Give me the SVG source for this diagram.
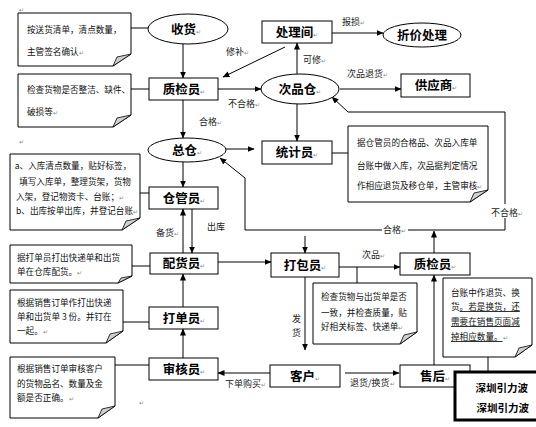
<svg xmlns="http://www.w3.org/2000/svg" width="536" height="427" viewBox="0 0 536 427">
<defs>
<marker id="ah" markerWidth="7" markerHeight="6" refX="6.5" refY="3" orient="auto" markerUnits="userSpaceOnUse">
<path d="M0,0 L7,3 L0,6 Z" fill="#000"/>
</marker>
<style>
.n{fill:#fff;stroke:#000;stroke-width:1}
.t{font-family:"Noto Sans CJK SC","Noto Sans",sans-serif;font-size:12.5px;font-weight:bold;fill:#000;text-anchor:middle}
.nt{font-family:"Noto Sans CJK SC","Noto Sans",sans-serif;font-size:8.6px;fill:#111}
.lb{font-family:"Noto Sans CJK SC","Noto Sans",sans-serif;font-size:9px;fill:#222}
.c{fill:none;stroke:#000;stroke-width:1}
.a{fill:none;stroke:#000;stroke-width:1;marker-end:url(#ah)}
.fold{fill:#d0d0d0;stroke:#000;stroke-width:0.8}
.r{font-size:6px;fill:#888;font-weight:normal}
.big{font-family:"Noto Sans CJK SC",sans-serif;font-size:10.5px;font-weight:bold;fill:#000;text-anchor:end}
</style>
</defs>
<rect width="536" height="427" fill="#fff"/>

<g id="connectors">
<line class="c" x1="131" y1="28" x2="148" y2="28"/>
<line class="a" x1="183" y1="44" x2="183" y2="78"/>
<line class="c" x1="131" y1="89" x2="149" y2="89"/>
<line class="a" x1="218" y1="89" x2="261" y2="89"/>
<line class="a" x1="285" y1="47" x2="223" y2="77"/>
<line class="a" x1="332" y1="33" x2="383" y2="33"/>
<line class="a" x1="297" y1="74" x2="297" y2="43"/>
<line class="a" x1="340" y1="89" x2="401" y2="89"/>
<line class="a" x1="297" y1="104" x2="297" y2="141"/>
<line class="c" x1="332" y1="153" x2="348" y2="153"/>
<line class="a" x1="183" y1="100" x2="183" y2="138"/>
<line class="a" x1="226" y1="149" x2="254" y2="149"/>
<line class="a" x1="183" y1="162" x2="183" y2="187"/>
<line class="c" x1="140" y1="193" x2="149" y2="193"/>
<line class="a" x1="183" y1="253" x2="183" y2="209"/>
<line class="a" x1="192" y1="209" x2="192" y2="253"/>
<line class="c" x1="132" y1="266" x2="150" y2="266"/>
<line class="a" x1="218" y1="262" x2="271" y2="262"/>
<line class="a" x1="305" y1="236" x2="305" y2="253"/>
<line class="a" x1="339" y1="267" x2="400" y2="267"/>
<line class="c" x1="357" y1="267" x2="357" y2="283"/>
<line class="a" x1="305" y1="277" x2="305" y2="350"/>
<line class="a" x1="345" y1="373" x2="399" y2="373"/>
<line class="a" x1="434" y1="365" x2="434" y2="275"/>
<line class="c" x1="488" y1="357" x2="488" y2="372"/>
<line class="a" x1="434" y1="253" x2="434" y2="231"/>
<polyline class="a" points="382,230 245,230 245,178 220,158"/>
<polyline class="a" points="408,230 505,230 505,112 348,112 332,97"/>
<line class="c" x1="123" y1="322" x2="149" y2="322"/>
<line class="a" x1="183" y1="307" x2="183" y2="274"/>
<line class="a" x1="183" y1="358" x2="183" y2="329"/>
<line class="c" x1="115" y1="365" x2="149" y2="365"/>
<line class="a" x1="270" y1="373" x2="218" y2="373"/>
</g>

<g id="edge-labels">
<text class="lb" x="226" y="55">修补<tspan class="r">↵</tspan></text>
<text class="lb" x="228" y="107">不合格<tspan class="r">↵</tspan></text>
<text class="lb" x="199" y="125">合格<tspan class="r">↵</tspan></text>
<text class="lb" x="342" y="25">报损<tspan class="r">↵</tspan></text>
<text class="lb" x="303" y="63">可修<tspan class="r">↵</tspan></text>
<text class="lb" x="347" y="77">次品退货<tspan class="r">↵</tspan></text>
<rect x="488" y="204" width="34" height="14" fill="#fff"/>
<text class="lb" x="491" y="216">不合格<tspan class="r">↵</tspan></text>
<text class="lb" x="383" y="233">合格<tspan class="r">↵</tspan></text>
<text class="lb" x="156" y="236">备货<tspan class="r">↵</tspan></text>
<text class="lb" x="207" y="230">出库</text>
<text class="lb" x="362" y="258">次品<tspan class="r">↵</tspan></text>
<text class="lb" x="292" y="322">发</text>
<text class="lb" x="292" y="336">货</text>
<text class="lb" x="350" y="386">退货/换货<tspan class="r">↵</tspan></text>
<text class="lb" x="225" y="387">下单购买<tspan class="r">↵</tspan></text>
<text class="lb r" x="19" y="12" style="font-size:6px">↵</text>
<text class="lb r" x="19" y="144" style="font-size:6px">↵</text>
<text class="lb r" x="139" y="405" style="font-size:6px">↵</text>
</g>

<g id="shouhuo"><ellipse class="n" cx="188" cy="29" rx="40" ry="15"/><text class="t" x="186" y="34">收货<tspan class="r">↵</tspan></text></g>
<g id="zhijianyuan1"><rect class="n" x="149" y="78" width="69" height="22"/><text class="t" x="184" y="94">质检员<tspan class="r">↵</tspan></text></g>
<g id="chulijian"><rect class="n" x="262" y="21" width="70" height="22"/><text class="t" x="297" y="37">处理间<tspan class="r">↵</tspan></text></g>
<g id="zhejia"><ellipse class="n" cx="422" cy="35" rx="39" ry="12"/><text class="t" x="422" y="40">折价处理</text></g>
<g id="cipincang"><ellipse class="n" cx="300" cy="89" rx="39" ry="15"/><text class="t" x="300" y="94">次品仓<tspan class="r">↵</tspan></text></g>
<g id="gongyingshang"><rect class="n" x="401" y="74" width="69" height="23"/><text class="t" x="436" y="90">供应商<tspan class="r">↵</tspan></text></g>
<g id="zongcang"><ellipse class="n" cx="187" cy="150" rx="39" ry="12"/><text class="t" x="187" y="155">总仓<tspan class="r">↵</tspan></text></g>
<g id="tongjiyuan"><rect class="n" x="262" y="141" width="70" height="23"/><text class="t" x="297" y="157">统计员<tspan class="r">↵</tspan></text></g>
<g id="cangguanyuan"><rect class="n" x="149" y="187" width="69" height="22"/><text class="t" x="184" y="203">仓管员<tspan class="r">↵</tspan></text></g>
<g id="peihuoyuan"><rect class="n" x="150" y="253" width="68" height="21"/><text class="t" x="184" y="268">配货员<tspan class="r">↵</tspan></text></g>
<g id="dabaoyuan"><rect class="n" x="271" y="253" width="68" height="24"/><text class="t" x="305" y="270">打包员<tspan class="r">↵</tspan></text></g>
<g id="zhijianyuan2"><rect class="n" x="400" y="253" width="70" height="22"/><text class="t" x="435" y="269">质检员<tspan class="r">↵</tspan></text></g>
<g id="dadanyuan"><rect class="n" x="149" y="307" width="69" height="22"/><text class="t" x="184" y="323">打单员<tspan class="r">↵</tspan></text></g>
<g id="shenheyuan"><rect class="n" x="149" y="358" width="69" height="22"/><text class="t" x="184" y="374">审核员<tspan class="r">↵</tspan></text></g>
<g id="kehu"><rect class="n" x="270" y="365" width="70" height="22"/><text class="t" x="305" y="381">客户<tspan class="r">↵</tspan></text></g>
<g id="shouhou"><rect class="n" x="400" y="365" width="70" height="22"/><text class="t" x="435" y="381">售后<tspan class="r">↵</tspan></text></g>

<g id="note1"><path class="n" d="M18,13 H131 V54 L113,66 H18 Z"/><path class="fold" d="M113,66 L117,57 L131,54 Z"/>
<text class="nt" x="27" y="33">按送货清单，清点数量，</text><text class="nt" x="27" y="55">主管签名确认<tspan class="r">↵</tspan></text></g>
<g id="note2"><path class="n" d="M18,74 H131 V115 L113,127 H18 Z"/><path class="fold" d="M113,127 L117,118 L131,115 Z"/>
<text class="nt" x="27" y="93">检查货物是否整洁、缺件、</text><text class="nt" x="27" y="115">破损等<tspan class="r">↵</tspan></text></g>
<g id="note-tongji"><path class="n" d="M348,126 H488 V190 L470,202 H348 Z"/><path class="fold" d="M470,202 L474,193 L488,190 Z"/>
<text class="nt" x="357" y="146">据仓管员的合格品、次品入库单</text><text class="nt" x="357" y="169">台账中做入库，次品据判定情况</text><text class="nt" x="357" y="189">作相应退货及移仓单，主管审核<tspan class="r">↵</tspan></text></g>
<g id="note-cangguan"><path class="n" d="M10,154 H140 V218 L122,230 H10 Z"/><path class="fold" d="M122,230 L126,221 L140,218 Z"/>
<g style="text-anchor:middle"><text class="nt" x="73" y="169">a、入库清点数量，贴好标签，</text><text class="nt" x="75" y="185">填写入库单，整理货架，货物</text><text class="nt" x="70" y="200">入架，登记物资卡、台账；<tspan class="r">↵</tspan></text><text class="nt" x="77" y="214">b、出库按单出库，并登记台账<tspan class="r">↵</tspan></text></g></g>
<g id="note-peihuo"><path class="n" d="M10,245 H132 V276 L118,283 H10 Z"/><path class="fold" d="M118,283 L121,278 L132,276 Z"/>
<text class="nt" x="17" y="261">据打单员打出快递单和出货</text><text class="nt" x="17" y="275">单在仓库配货。<tspan class="r">↵</tspan></text></g>
<g id="note-dabao"><path class="n" d="M313,283 H417 V332 L400,344 H313 Z"/><path class="fold" d="M400,344 L404,335 L417,332 Z"/>
<text class="nt" x="321" y="300">检查货物与出货单是否</text><text class="nt" x="321" y="316">一致，并检查质量，贴</text><text class="nt" x="321" y="330">好相关标签、快递单<tspan class="r">↵</tspan></text></g>
<g id="note-shouhou"><path class="n" d="M443,278 H532 V345 L515,357 H443 Z"/><path class="fold" d="M515,357 L519,348 L532,345 Z"/>
<text class="nt" x="451" y="296">台账中作退货、换</text><text class="nt" x="451" y="310">货<tspan text-decoration="underline">。若是换货，还</tspan></text><text class="nt" x="451" y="325" text-decoration="underline">需要在销售页面减</text><text class="nt" x="451" y="340"><tspan text-decoration="underline">掉相应数量。</tspan><tspan class="r">↵</tspan></text></g>
<g id="note-dadan"><path class="n" d="M10,290 H123 V331 L106,343 H10 Z"/><path class="fold" d="M106,343 L110,334 L123,331 Z"/>
<text class="nt" x="17" y="306">根据销售订单作打出快递</text><text class="nt" x="17" y="320">单和出货单 3 份。并钉在</text><text class="nt" x="17" y="334">一起。<tspan class="r">↵</tspan></text></g>
<g id="note-shenhe"><path class="n" d="M10,357 H115 V406 L98,418 H10 Z"/><path class="fold" d="M98,418 L102,409 L115,406 Z"/>
<text class="nt" x="17" y="372">根据销售订单审核客户</text><text class="nt" x="17" y="387">的货物品名、数量及金</text><text class="nt" x="17" y="401">额是否正确。<tspan class="r">↵</tspan></text></g>

<g id="watermark"><rect x="455" y="372" width="85" height="48" fill="#fff" stroke="#000" stroke-width="3"/>
<text class="big" x="528" y="392">深圳引力波</text><text class="big" x="529" y="412">深圳引力波</text></g>
</svg>
